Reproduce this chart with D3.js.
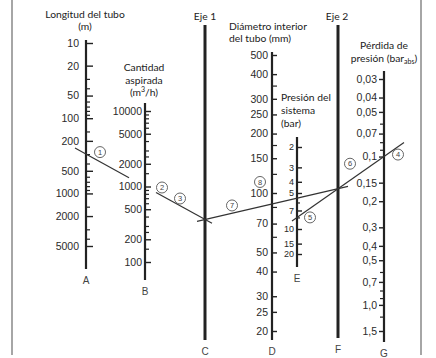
<!DOCTYPE html>
<html>
<head>
<meta charset="utf-8">
<script src="https://cdn.jsdelivr.net/npm/d3@7"></script>
<style>
  body { margin: 0; background: #fff; }
  svg { display: block; }
  .hdr { font-family: Lato, "Open Sans", sans-serif; font-size: 10.3px; fill: #222; }
  .tl { font-family: "Liberation Sans", Arial, sans-serif; font-size: 10.5px; fill: #2a2a2a; }
  .ax { font-family: "Liberation Sans", Arial, sans-serif; font-size: 10px; fill: #444; }
</style>
</head>
<body>
<svg id="chart" width="436" height="358"></svg>
<script>
// A: pipe length (m)
const lengthMajor = [10, 20, 50, 100, 200, 500, 1000, 2000, 5000];
const lengthMinor = [30, 40, 60, 70, 80, 90, 150, 300, 400, 600, 700, 800, 900, 1500, 3000, 4000];
// B: suction capacity (m3/h)
const flowMajor = [10000, 5000, 2000, 1000, 500, 200, 100];
const flowMinor = [9000, 8000, 7000, 6000, 4000, 3000, 2500, 1500, 900, 800, 700, 600, 400, 300, 250, 150];
// D: inner diameter (mm)
const diamMajor = [500, 400, 300, 250, 200, 150, 100, 70, 50, 40, 30, 25, 20];
const diamMinor = [350, 175, 125, 85, 60];
// E: system pressure (bar)
const pressMajor = [2, 3, 4, 5, 7, 10, 15, 20];
const pressMinor = [6, 8];
// G: pressure loss (bar abs)
const lossMajor = [0.03, 0.04, 0.05, 0.07, 0.1, 0.15, 0.2, 0.3, 0.4, 0.5, 0.7, 1.0, 1.5];
const lossLabels = ["0,03", "0,04", "0,05", "0,07", "0,1", "0,15", "0,2", "0,3", "0,4", "0,5", "0,7", "1,0", "1,5"];
const lossMinor = [0.06, 0.08, 0.09, 0.6, 0.8, 0.9, 1.2];

// worked example
const exLength = 300;
const exFlow = 1000;
const exPressure = 8;
const exLoss = 0.1;

const svg = d3.select('#chart');

// axis positions
const xA = 86, xB = 145, xC = 205, xD = 272, xE = 297, xF = 338, xG = 384;

const yA = d3.scaleLog().domain([10, 5000]).range([43, 246]);
const yB = d3.scaleLog().domain([10000, 100]).range([111, 262]);
const yD = d3.scaleLog().domain([500, 20]).range([55, 331]);
const yE = d3.scaleLog().domain([2, 5, 10, 20]).range([147, 193, 229, 254]);
const yG = d3.scaleLog().domain([0.03, 1.5]).range([79, 331]);

// frame lines
svg.append('line').attr('x1', 12).attr('x2', 12).attr('y1', 0).attr('y2', 355)
    .attr('stroke', '#888').attr('stroke-width', 1.5);
svg.append('line').attr('x1', 421).attr('x2', 421).attr('y1', 0).attr('y2', 355)
    .attr('stroke', '#888').attr('stroke-width', 1.5);

function drawScale(x, scale, major, minor, o) {
    const g = svg.append('g').attr('transform', `translate(${x},0)`);
    const mk = o.tickSide === 'left' ? d3.axisLeft : d3.axisRight;

    // minor ticks
    g.append('g').call(mk(scale).tickValues(minor).tickSize(o.minorLen).tickFormat(''))
        .call(s => s.select('.domain').remove())
        .selectAll('line').attr('stroke', '#222').attr('stroke-width', 1.2);
    // major ticks
    g.append('g').call(mk(scale).tickValues(major).tickSize(o.majorLen).tickFormat(''))
        .call(s => s.select('.domain').remove())
        .selectAll('line').attr('stroke', '#222').attr('stroke-width', 1.4);
    // labels, always on the left
    const labGap = o.tickSide === 'left' ? o.majorLen + o.gap : o.gap;
    const lab = g.append('g').call(d3.axisLeft(scale).tickValues(major).tickSize(0).tickPadding(labGap)
        .tickFormat(o.fmt || (d => d)));
    lab.select('.domain').remove();
    lab.attr('font-size', null).attr('font-family', null);
    lab.selectAll('text').attr('class', 'tl');
    if (o.fontSize) lab.selectAll('text').style('font-size', o.fontSize + 'px');

    // axis line
    g.append('line').attr('x1', 0).attr('x2', 0).attr('y1', o.top).attr('y2', o.bottom)
        .attr('stroke', '#222').attr('stroke-width', o.w || 2.2);
    // letter
    if (o.letter) {
        g.append('text').attr('class', 'ax').attr('text-anchor', 'middle')
            .attr('y', o.bottom + 15).text(o.letter);
    }
}

drawScale(xA, yA, lengthMajor, lengthMinor, { tickSide: 'right', majorLen: 7, minorLen: 4, gap: 7, top: 40, bottom: 269, letter: 'A' });
drawScale(xB, yB, flowMajor, flowMinor, { tickSide: 'right', majorLen: 6, minorLen: 4, gap: 3, top: 103, bottom: 280, letter: 'B' });
drawScale(xD, yD, diamMajor, diamMinor, { tickSide: 'right', majorLen: 5, minorLen: 5, gap: 4, top: 52, bottom: 340, letter: 'D' });
drawScale(xE, yE, pressMajor, pressMinor, { tickSide: 'right', majorLen: 5, minorLen: 3, gap: 3, top: 137, bottom: 267, letter: 'E', fontSize: 9 });
const lossFmt = d => lossLabels[lossMajor.indexOf(d)];
drawScale(xG, yG, lossMajor, lossMinor, { tickSide: 'left', majorLen: 5, minorLen: 4, gap: 2, top: 71, bottom: 342, letter: 'G', fmt: lossFmt });

// auxiliary axes (Eje 1 / Eje 2)
[[xC, 'C', 340], [xF, 'F', 338]].forEach(([x, letter, bottom]) => {
    svg.append('line').attr('x1', x).attr('x2', x).attr('y1', 25).attr('y2', bottom)
        .attr('stroke', '#222').attr('stroke-width', 3);
    svg.append('text').attr('class', 'ax').attr('text-anchor', 'middle')
        .attr('x', x).attr('y', bottom + 15).text(letter);
});

// headers
function header(x, y, lines, anchor) {
    const t = svg.append('text').attr('class', 'hdr').attr('text-anchor', anchor || 'middle');
    lines.forEach((ln, i) => {
        const ts = t.append('tspan').attr('x', x).attr('y', y + i * ln.dy);
        if (typeof ln.t === 'string') ts.text(ln.t);
        else ln.t(ts);
    });
}
header(85, 18, [{ t: 'Longitud del tubo', dy: 0 }, { t: '(m)', dy: 12 }]);
header(144, 71, [
    { t: 'Cantidad', dy: 0 },
    { t: 'aspirada', dy: 12.5 },
    { t: ts => { ts.append('tspan').text('(m'); ts.append('tspan').attr('dy', -4).attr('font-size', 7).text('3');
                 ts.append('tspan').attr('dy', 4).text('/h)'); }, dy: 12.5 }
]);
header(xC, 20, [{ t: 'Eje 1', dy: 0 }]);
header(xF - 1, 20, [{ t: 'Eje 2', dy: 0 }]);
header(229, 30, [{ t: 'Diámetro interior', dy: 0 }, { t: 'del tubo (mm)', dy: 12 }], 'start');
header(281, 101, [{ t: 'Presión del', dy: 0 }, { t: 'sistema', dy: 13 }, { t: '(bar)', dy: 13 }], 'start');
header(384, 49, [
    { t: 'Pérdida de', dy: 0 },
    { t: ts => { ts.append('tspan').text('presión (bar'); ts.append('tspan').attr('dy', 2).attr('font-size', 7).text('abs');
                 ts.append('tspan').attr('dy', -2).text(')'); }, dy: 13 }
]);

// example construction
const lineAt = (p, q, x) => p[1] + (q[1] - p[1]) * (x - p[0]) / (q[0] - p[0]);
const pA = [xA, yA(exLength)], pB = [xB, yB(exFlow)];
const pC = [xC, lineAt(pA, pB, xC)];
const pE = [xE, yE(exPressure)], pG = [xG, yG(exLoss)];
const pF = [xF, lineAt(pE, pG, xF)];
const pD = [xD, lineAt(pC, pF, xD)];

function seg(p, q, x1, x2) {
    svg.append('line').attr('x1', x1).attr('y1', lineAt(p, q, x1)).attr('x2', x2).attr('y2', lineAt(p, q, x2))
        .attr('stroke', '#333').attr('stroke-width', 1.2);
}
seg(pA, pB, xA - 11, xB - 16);
seg(pA, pB, xB + 11, xC + 7);
seg(pE, pG, xE - 5, xG + 20);
seg(pC, pF, xC - 8, xF + 10);

// step markers
const marks = [
    ['1', pA[0] + 14, pA[1] - 2],
    ['2', pB[0] + 17, pB[1] + 1],
    ['3', pB[0] + 35, pB[1] + 12],
    ['4', pG[0] + 14, pG[1] - 2],
    ['5', pE[0] + 13, pE[1]],
    ['6', pF[0] + 12, pF[1] - 25],
    ['7', pC[0] + 27, pC[1] - 14],
    ['8', pD[0] - 12, pD[1] - 22]
];
const mg = svg.append('g').selectAll('g').data(marks).enter().append('g')
    .attr('transform', d => `translate(${d[1]},${d[2]})`);
mg.append('circle').attr('r', 5.5).attr('fill', '#fff').attr('stroke', '#555').attr('stroke-width', 0.9);
mg.append('text').attr('text-anchor', 'middle').attr('dy', '0.35em')
    .attr('font-family', 'Liberation Sans, Arial, sans-serif').attr('font-size', 7.5).attr('fill', '#444')
    .text(d => d[0]);
</script>
</body>
</html>
